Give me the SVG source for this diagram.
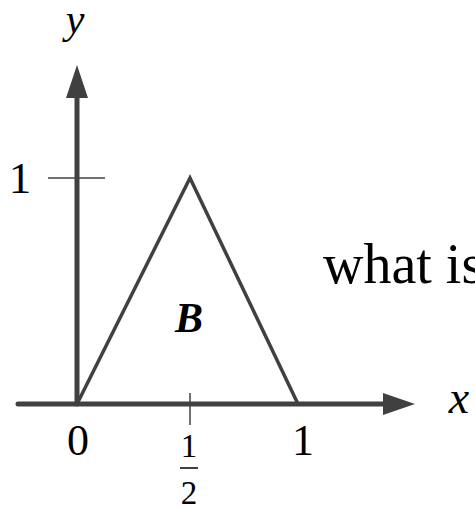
<svg xmlns="http://www.w3.org/2000/svg" width="475" height="509" viewBox="0 0 475 509">
<style>
.axis{stroke:#404040;stroke-width:5;fill:none;stroke-linecap:round}
.tri{stroke:#404040;stroke-width:3.5;fill:none;stroke-linejoin:miter}
.tick{stroke:#404040;stroke-width:1.5}
.t{font-family:"Liberation Serif","Times New Roman",serif;fill:#000}
.i{font-style:italic}
</style>
<rect width="475" height="509" fill="#fff"/>
<g id="connectors">
<line class="axis" x1="77" y1="404" x2="77" y2="96"/>
<polygon points="77,65 66,98 88,98" fill="#404040"/>
<line class="axis" x1="18" y1="404" x2="386" y2="404"/>
<polygon points="415,404 383,393 383,415" fill="#404040"/>
<line class="tick" x1="48" y1="178" x2="105" y2="178"/>
<line class="tick" x1="190" y1="393" x2="190" y2="425"/>
</g>
<g id="triangle">
<polyline class="tri" points="77,404 190,178 298,404"/>
<text class="t i" x="189" y="332" font-size="42" font-weight="bold" text-anchor="middle">B</text>
</g>
<g id="labels">
<text class="t i" x="75" y="33" font-size="42" text-anchor="middle">y</text>
<text class="t" x="20" y="193" font-size="45" text-anchor="middle">1</text>
<text class="t" x="78" y="455" font-size="44" text-anchor="middle">0</text>
<text class="t" x="303" y="455" font-size="44" text-anchor="middle">1</text>
<text class="t" x="189" y="457" font-size="33" text-anchor="middle">1</text>
<line x1="180" y1="468" x2="198" y2="468" stroke="#000" stroke-width="1.5"/>
<text class="t" x="189" y="504" font-size="33" text-anchor="middle">2</text>
<text class="t i" x="459" y="413" font-size="46" text-anchor="middle">x</text>
<text class="t" x="323" y="283" font-size="56">what is</text>
</g>
</svg>
